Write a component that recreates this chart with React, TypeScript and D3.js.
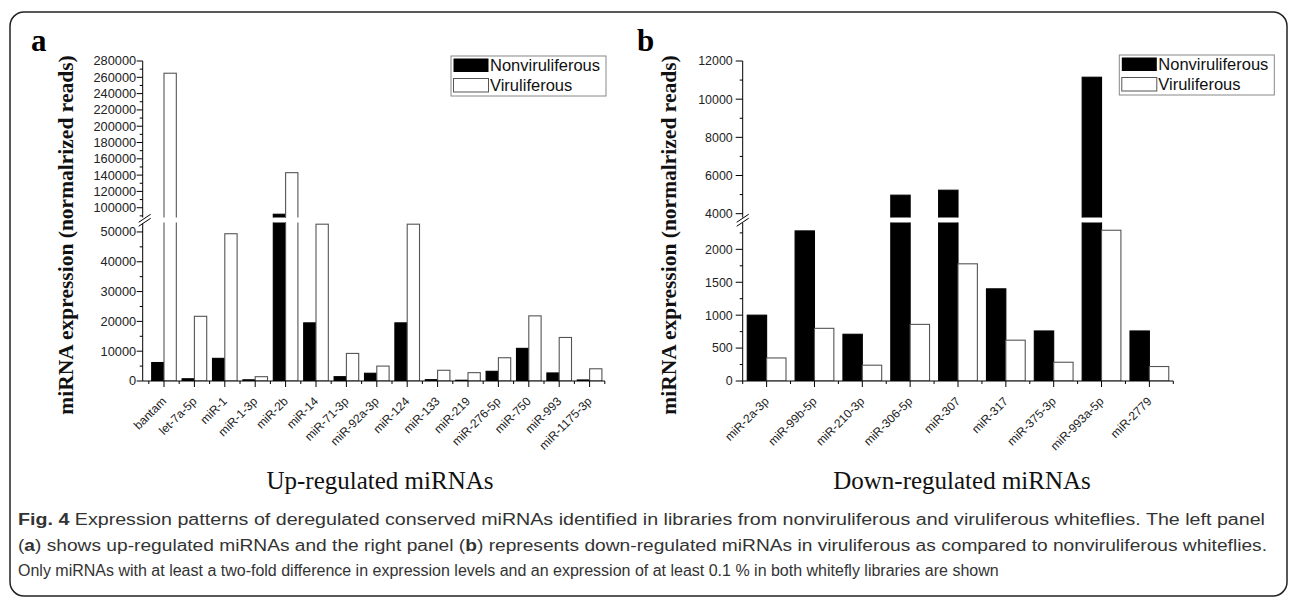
import React from "react";
import * as d3 from "d3";

// series
const seriesNames = ["Nonviruliferous", "Viruliferous"];

// panel a: up-regulated
const upCategories = ["bantam", "let-7a-5p", "miR-1", "miR-1-3p", "miR-2b", "miR-14", "miR-71-3p", "miR-92a-3p", "miR-124", "miR-133", "miR-219", "miR-276-5p", "miR-750", "miR-993", "miR-1175-3p"];
const upNonviruliferous = [6200, 750, 7600, 400, 92000, 19500, 1450, 2600, 19500, 450, 250, 3250, 10950, 2700, 350];
const upViruliferous = [265000, 21700, 49400, 1450, 143000, 52600, 9250, 5000, 52600, 3600, 2800, 7800, 21850, 14600, 4100];
const upLowerTicks = [0, 10000, 20000, 30000, 40000, 50000];
const upUpperTicks = [100000, 120000, 140000, 160000, 180000, 200000, 220000, 240000, 260000, 280000];

// panel b: down-regulated
const downCategories = ["miR-2a-3p", "miR-99b-5p", "miR-210-3p", "miR-306-5p", "miR-307", "miR-317", "miR-375-3p", "miR-993a-5p", "miR-2779"];
const downNonviruliferous = [1000, 2280, 710, 4970, 5230, 1400, 760, 11150, 760];
const downViruliferous = [350, 800, 240, 860, 1780, 620, 285, 2290, 220];
const downLowerTicks = [0, 500, 1000, 1500, 2000];
const downUpperTicks = [4000, 6000, 8000, 10000, 12000];

const Y_BOTTOM = 381;
const Y_LOWER_TOP = 223;
const Y_UPPER_BOTTOM = 217.5;
const Y_TOP = 61;

const SANS = "'Liberation Sans', Arial, sans-serif";
const SERIF = "'Liberation Serif', 'Times New Roman', serif";

const Panel = (props: any) => {
    const { id, categories, values, lowerDomain, upperDomain, lowerTicks, upperTicks, lowerMinor, upperMinor,
        axisX, bandStart, axisEnd, letter, letterX, yTitleX, xTitle, xTitleX, legendX, legendY,
        tickLen, labelGap, tickFont, breakShift } = props;

    const x0 = d3.scaleBand().domain(categories).range([bandStart, axisEnd]).paddingInner(0.19).paddingOuter(0.095);
    const x1 = d3.scaleBand().domain(seriesNames).range([0, x0.bandwidth()]);
    const yLow = d3.scaleLinear().domain(lowerDomain).range([Y_BOTTOM, Y_LOWER_TOP]);
    const yUp = d3.scaleLinear().domain(upperDomain).range([Y_UPPER_BOTTOM, Y_TOP]);

    const lowMinor = d3.range(lowerDomain[0], lowerDomain[1], lowerMinor).filter(v => !lowerTicks.includes(v));
    const upMinor = d3.range(Math.ceil(upperDomain[0] / upperMinor) * upperMinor, upperDomain[1] + 1, upperMinor)
        .filter(v => !upperTicks.includes(v));
    const step = x0.step();
    const boundaries = d3.range(categories.length + 1).map(i => bandStart + i * step);
    const ym = (Y_LOWER_TOP + Y_UPPER_BOTTOM) / 2;
    const bx = axisX + breakShift;

    const bars: any[] = [];
    categories.forEach((c: string, i: number) => {
        seriesNames.forEach((s, k) => {
            const v = values[k][i];
            const x = (x0(c) ?? 0) + (x1(s) ?? 0);
            const w = x1.bandwidth();
            const fill = k === 0 ? "#000" : "#fff";
            const stroke = k === 0 ? "#000" : "#555";
            bars.push(
                <rect key={`l-${c}-${s}`} clipPath={`url(#${id}-low)`} x={x} y={yLow(v)} width={w}
                    height={Y_BOTTOM - yLow(v)} fill={fill} stroke={stroke} strokeWidth={1.1} />
            );
            if (v > upperDomain[0]) {
                bars.push(
                    <rect key={`u-${c}-${s}`} clipPath={`url(#${id}-up)`} x={x} y={yUp(v)} width={w}
                        height={Y_UPPER_BOTTOM + 10 - yUp(v)} fill={fill} stroke={stroke} strokeWidth={1.1} />
                );
            }
        });
    });

    return (
        <g>
            <defs>
                <clipPath id={`${id}-low`}>
                    <rect x={axisX} y={Y_LOWER_TOP - 0.6} width={axisEnd - axisX + 20} height={Y_BOTTOM - Y_LOWER_TOP + 0.6} />
                </clipPath>
                <clipPath id={`${id}-up`}>
                    <rect x={axisX} y={0} width={axisEnd - axisX + 20} height={Y_UPPER_BOTTOM} />
                </clipPath>
            </defs>
            <text x={letterX} y={51} fontFamily={SERIF} fontWeight="bold" fontSize={31} fill="#000">{letter}</text>
            <text transform={`translate(${yTitleX},${235}) rotate(-90)`} textAnchor="middle" fontFamily={SERIF}
                fontWeight="bold" fontSize={21.5} fill="#111">miRNA expression (normalrized reads)</text>
            {bars}
            {/* y axis */}
            <g stroke="#000" strokeWidth={1}>
                <line x1={axisX} x2={axisX} y1={Y_BOTTOM} y2={Y_LOWER_TOP} />
                <line x1={axisX} x2={axisX} y1={Y_UPPER_BOTTOM} y2={Y_TOP} />
                {lowerTicks.map((t: number) => <line key={`lt${t}`} x1={axisX - tickLen} x2={axisX} y1={yLow(t)} y2={yLow(t)} />)}
                {lowMinor.map(t => <line key={`lm${t}`} x1={axisX - 3} x2={axisX} y1={yLow(t)} y2={yLow(t)} />)}
                {upperTicks.map((t: number) => <line key={`ut${t}`} x1={axisX - tickLen} x2={axisX} y1={yUp(t)} y2={yUp(t)} />)}
                {upMinor.map(t => <line key={`um${t}`} x1={axisX - 3} x2={axisX} y1={yUp(t)} y2={yUp(t)} />)}
            </g>
            <g fontFamily={SANS} fontSize={tickFont} fill="#222" textAnchor="end">
                {lowerTicks.map((t: number) => <text key={`ll${t}`} x={axisX - labelGap} y={yLow(t)} dy="0.35em">{t}</text>)}
                {upperTicks.map((t: number) => <text key={`ul${t}`} x={axisX - labelGap} y={yUp(t)} dy="0.35em">{t}</text>)}
            </g>
            {/* axis break */}
            <polygon points={`${bx - 6},${ym + 2} ${bx + 6},${ym - 6} ${bx + 6},${ym - 2} ${bx - 6},${ym + 6}`} fill="#fff" />
            <g stroke="#000" strokeWidth={1}>
                <line x1={bx - 6} y1={ym + 2} x2={bx + 6} y2={ym - 6} />
                <line x1={bx - 6} y1={ym + 6} x2={bx + 6} y2={ym - 2} />
            </g>
            {/* x axis */}
            <g stroke="#000" strokeWidth={1}>
                <line x1={axisX} x2={axisEnd} y1={Y_BOTTOM} y2={Y_BOTTOM} />
                {categories.map((c: string) => {
                    const cx = (x0(c) ?? 0) + x0.bandwidth() / 2;
                    return <line key={`xt${c}`} x1={cx} x2={cx} y1={Y_BOTTOM} y2={Y_BOTTOM + 6} />;
                })}
                {boundaries.map(b => <line key={`xb${b}`} x1={b} x2={b} y1={Y_BOTTOM} y2={Y_BOTTOM + 3} />)}
            </g>
            <g fontFamily={SANS} fontSize={12} fill="#222" textAnchor="end">
                {categories.map((c: string) => {
                    const cx = (x0(c) ?? 0) + x0.bandwidth() / 2;
                    return <text key={`xl${c}`} transform={`translate(${cx + 3},${Y_BOTTOM + 21}) rotate(-45)`}>{c}</text>;
                })}
            </g>
            <text x={xTitleX} y={489} textAnchor="middle" fontFamily={SERIF} fontSize={25} fill="#111">{xTitle}</text>
            {/* legend */}
            <g>
                <rect x={legendX} y={legendY} width={155} height={40} fill="#fff" stroke="#888" strokeWidth={1} />
                <rect x={legendX + 2.5} y={legendY + 2.5} width={35} height={13.5} fill="#000" />
                <rect x={legendX + 2.5} y={legendY + 22.5} width={35} height={13.5} fill="#fff" stroke="#555" strokeWidth={1} />
                <text x={legendX + 39} y={legendY + 15} fontFamily={SANS} fontSize={16.5} fill="#111">{seriesNames[0]}</text>
                <text x={legendX + 39} y={legendY + 35} fontFamily={SANS} fontSize={16.5} fill="#111">{seriesNames[1]}</text>
            </g>
        </g>
    );
};

export default function App() {
    return (
        <svg width={1290} height={599} style={{ position: "absolute", left: 0, top: 0, background: "#fff" }}>
            <rect x={10} y={12} width={1277} height={584} rx={14} fill="#fff" stroke="#222" strokeWidth={1.5} />
            <Panel id="pa" categories={upCategories} values={[upNonviruliferous, upViruliferous]}
                lowerDomain={[0, 53000]} upperDomain={[88000, 280000]} lowerTicks={upLowerTicks} upperTicks={upUpperTicks}
                lowerMinor={5000} upperMinor={10000} axisX={142.7} bandStart={148.8} axisEnd={604.8}
                letter="a" letterX={31} yTitleX={73} xTitle="Up-regulated miRNAs" xTitleX={380}
                legendX={451} legendY={56} tickLen={6} labelGap={6.5} tickFont={12.8} breakShift={2} />
            <Panel id="pb" categories={downCategories} values={[downNonviruliferous, downViruliferous]}
                lowerDomain={[0, 2400]} upperDomain={[3800, 12000]} lowerTicks={downLowerTicks} upperTicks={downUpperTicks}
                lowerMinor={250} upperMinor={1000} axisX={742.7} bandStart={742.7} axisEnd={1173.3}
                letter="b" letterX={637} yTitleX={676} xTitle="Down-regulated miRNAs" xTitleX={962}
                legendX={1119.3} legendY={55} tickLen={7} labelGap={10} tickFont={12.4} breakShift={0} />
            <g fontFamily={SANS} fontSize={16} fill="#333">
                <text x={18} y={525} textLength={1247} lengthAdjust="spacingAndGlyphs">
                    <tspan fontWeight="bold">Fig. 4</tspan> Expression patterns of deregulated conserved miRNAs identified in libraries from nonviruliferous and viruliferous whiteflies. The left panel
                </text>
                <text x={18} y={551} textLength={1249} lengthAdjust="spacingAndGlyphs">
                    (<tspan fontWeight="bold">a</tspan>) shows up-regulated miRNAs and the right panel (<tspan fontWeight="bold">b</tspan>) represents down-regulated miRNAs in viruliferous as compared to nonviruliferous whiteflies.
                </text>
                <text x={18} y={576}>
                    Only miRNAs with at least a two-fold difference in expression levels and an expression of at least 0.1 % in both whitefly libraries are shown
                </text>
            </g>
        </svg>
    );
}
